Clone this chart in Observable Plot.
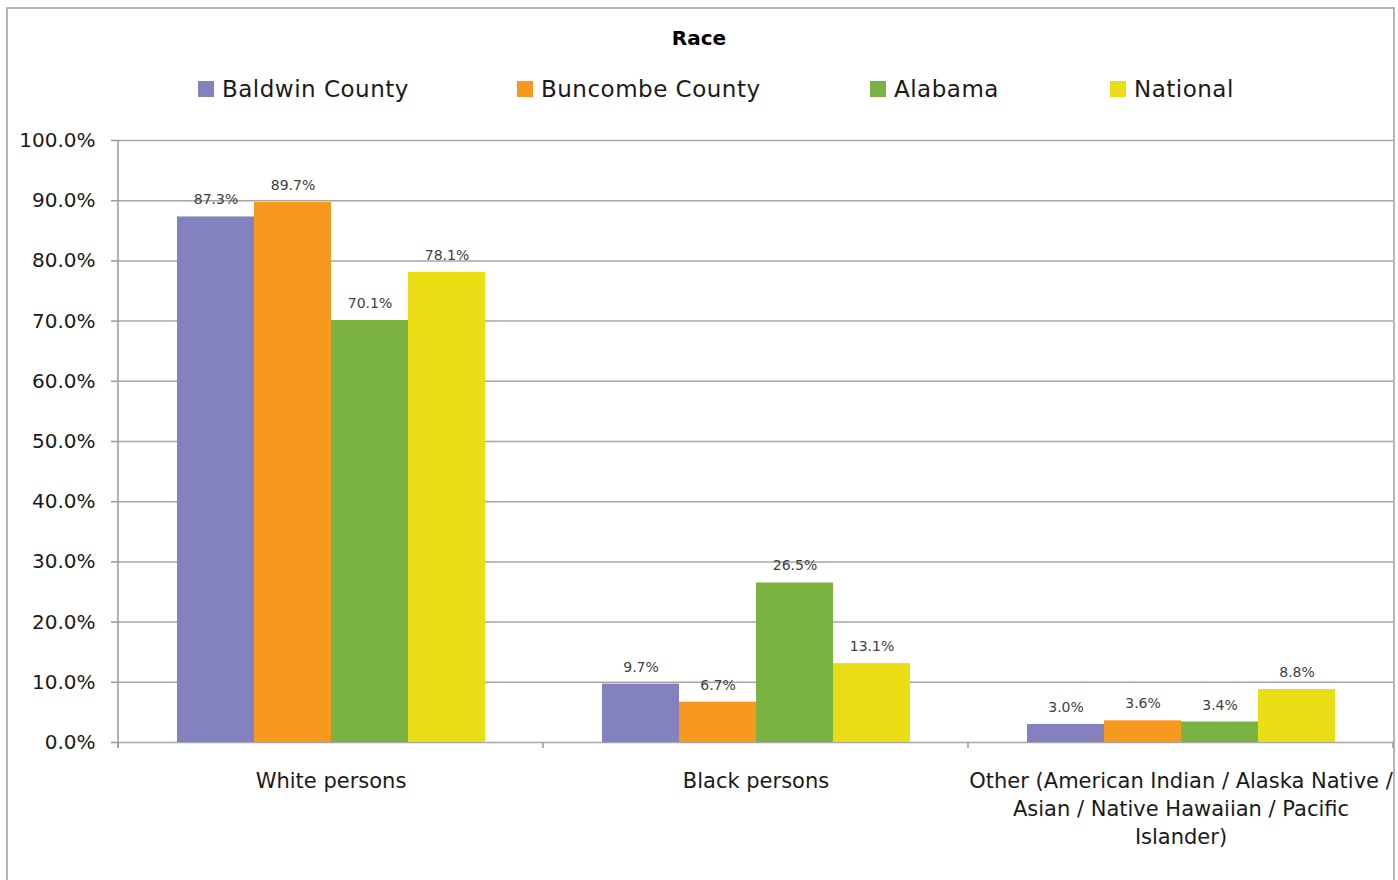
<!DOCTYPE html>
<html><head><meta charset="utf-8">
<script src="https://cdn.jsdelivr.net/npm/d3@7"></script>
<script src="https://cdn.jsdelivr.net/npm/@observablehq/plot@0.6"></script>
<style>
body{margin:0;background:#fff;font-family:"DejaVu Sans",sans-serif;}
#wrap{position:relative;width:1398px;height:880px;overflow:hidden;background:#fff;}
#border{position:absolute;left:6px;top:7px;width:1385px;height:900px;border:2px solid #b5b5b5;}
#title{position:absolute;left:0;width:1398px;top:25px;text-align:center;font-weight:bold;font-size:20px;color:#000;line-height:26px;}
.item{position:absolute;top:76px;display:flex;align-items:center;font-size:23px;letter-spacing:0.5px;color:#1a1a1a;line-height:26px;white-space:nowrap;}
.sw{width:16px;height:16px;margin-right:8px;}
#chart{position:absolute;left:0;top:110px;}
</style></head>
<body>
<div id="wrap">
  <div id="border"></div>
  <div id="title">Race</div>
  <div id="legend"></div>
  <div id="chart"></div>
</div>
<script>
const categories = ["White persons", "Black persons", "Other (American Indian / Alaska Native / Asian / Native Hawaiian / Pacific Islander)"];
const categoryLabels = ["White persons", "Black persons", "Other (American Indian / Alaska Native /\nAsian / Native Hawaiian / Pacific\nIslander)"];
const series = ["Baldwin County", "Buncombe County", "Alabama", "National"];
const baldwin = [87.3, 9.7, 3.0];
const buncombe = [89.7, 6.7, 3.6];
const alabama = [70.1, 26.5, 3.4];
const national = [78.1, 13.1, 8.8];
const yTicks = [0, 10, 20, 30, 40, 50, 60, 70, 80, 90, 100];
const colors = ["#8482BE", "#F7991F", "#7BB342", "#EADD13"];
const legendLeft = [198, 517, 870, 1110];

const valuesBySeries = [baldwin, buncombe, alabama, national];
const data = [];
categories.forEach((c, i) => valuesBySeries.forEach((arr, j) => data.push({category: c, series: series[j], value: arr[i]})));

// legend
const legend = document.getElementById("legend");
series.forEach((s, j) => {
  const it = document.createElement("div");
  it.className = "item";
  it.style.left = legendLeft[j] + "px";
  it.innerHTML = `<span class="sw" style="background:${colors[j]}"></span><span>${s}</span>`;
  legend.appendChild(it);
});

const plot = Plot.plot({
  width: 1398, height: 770,
  marginTop: 30, marginBottom: 138, marginLeft: 118, marginRight: 5,
  style: {fontFamily: "DejaVu Sans", background: "transparent", overflow: "visible"},
  fx: {domain: categories, padding: 0, axis: null},
  x: {domain: series, paddingInner: 0, paddingOuter: 0.75, axis: null},
  y: {domain: [0, 100], axis: null},
  color: {domain: series, range: colors},
  marks: [
    Plot.ruleY(yTicks, {stroke: "#a6a6a6", strokeWidth: 1.5}),
    Plot.barY(data, {fx: "category", x: "series", y: "value", fill: "series"}),
    Plot.text(data, {fx: "category", x: "series", y: "value", text: d => d.value.toFixed(1) + "%", dy: -17, fontSize: 14, fill: "#404040"}),
    Plot.text(categories, {fx: d => d, text: d => categoryLabels[categories.indexOf(d)], frameAnchor: "bottom", lineAnchor: "top", dy: 26, fontSize: 21, lineHeight: 1.33, fill: "#1a1a1a"}),
    Plot.axisY({ticks: yTicks, tickFormat: d => d.toFixed(1) + "%", label: null, tickSize: 7, tickPadding: 16, fontSize: 20, stroke: "#999", fill: "#1a1a1a", strokeWidth: 1.5})
  ]
});
document.getElementById("chart").appendChild(plot);

// axis line and category boundary ticks
const svg = d3.select(plot);
const fx = plot.scale("fx");
const y = plot.scale("y");
const bw = fx.bandwidth != null ? fx.bandwidth : (fx.range[1] - fx.range[0]) / categories.length;
const bounds = categories.map(c => fx.apply(c)).concat([fx.apply(categories[categories.length - 1]) + bw]);
const y0 = y.apply(0), y100 = y.apply(100);
svg.append("line").attr("x1", bounds[0]).attr("x2", bounds[0]).attr("y1", y100).attr("y2", y0 + 6).attr("stroke", "#999").attr("stroke-width", 1.5);
bounds.forEach(b => svg.append("line").attr("x1", b).attr("x2", b).attr("y1", y0).attr("y2", y0 + 6).attr("stroke", "#999").attr("stroke-width", 1.5));
</script>
</body></html>
